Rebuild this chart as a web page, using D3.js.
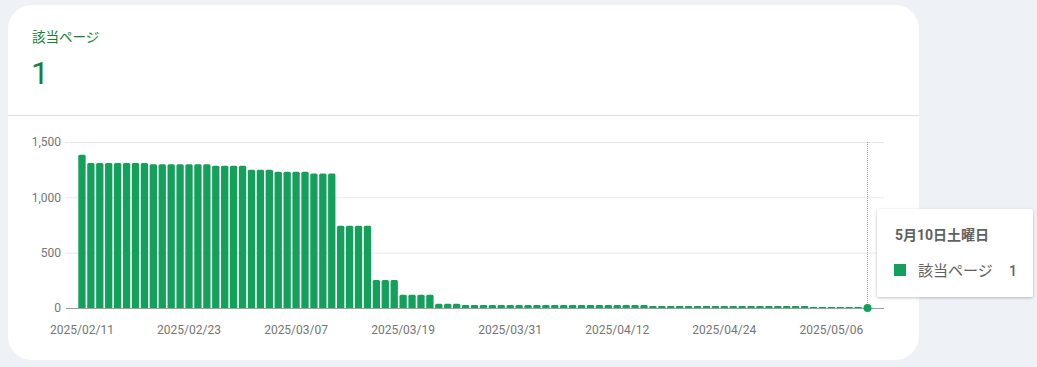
<html>
<head>
<meta charset="utf-8">
<script src="https://d3js.org/d3.v7.min.js"></script>
<style>
  body { margin: 0; background: #eef1f6; }
  text { font-family: Roboto, "Noto Sans CJK JP", sans-serif; }
</style>
</head>
<body>
<svg id="chart" width="1037" height="367"></svg>
<script>
    // daily counts, 2025/02/11 .. 2025/05/10
    const startDay = new Date(2025, 1, 11);
    const endDay = new Date(2025, 4, 11);
    const values = [
        1385,
        1310, 1310, 1310, 1310, 1310, 1310, 1310,
        1300, 1300, 1300, 1300, 1300, 1300, 1300,
        1286, 1286, 1286, 1286,
        1250, 1250, 1250,
        1232, 1232, 1232, 1232,
        1216, 1216, 1216,
        744, 744, 744, 744,
        253, 253, 253,
        120, 120, 120, 120,
        39, 39, 39,
        27, 27, 27, 27, 27, 27, 27, 27, 27, 27, 27, 27, 27, 27, 27, 27, 27, 27, 27, 27, 27,
        18, 18, 18, 18, 18, 18, 18, 18, 18, 18, 18, 18, 18, 18, 18, 18, 18, 18,
        8, 8, 8, 8, 8, 8,
        1
    ];
    const yTicks = [0, 500, 1000, 1500];
    const seriesName = "該当ページ";
    const headlineValue = "1";
    const tooltipTitle = "5月10日土曜日";

    const days = d3.timeDay.range(startDay, endDay);
    const fmt = d3.timeFormat("%Y/%m/%d");
    const green = "#12a05b";

    let svg = d3.select("svg#chart");

    // card
    svg.append("rect")
        .attr("x", 8).attr("y", 5)
        .attr("width", 911).attr("height", 355)
        .attr("rx", 24)
        .style("fill", "#fff");
    svg.append("line")
        .attr("x1", 8).attr("x2", 919)
        .attr("y1", 115.5).attr("y2", 115.5)
        .style("stroke", "#e0e0e0");

    svg.append("text")
        .attr("x", 32).attr("y", 42)
        .style("font-size", "13.5px")
        .style("fill", "#188038")
        .text(seriesName);
    svg.append("text")
        .attr("x", 31).attr("y", 84)
        .style("font-size", "32px")
        .style("fill", "#188038")
        .text(headlineValue);

    //scales
    let xScale = d3.scaleBand().domain(days).range([77.5, 871.5]).paddingInner(0.18).paddingOuter(0.09);
    let yScale = d3.scaleLinear().domain([0, 1500]).range([308, 142]);

    //horizontal grid lines
    yTicks.forEach(function(t) {
        if (t == 0) return;
        svg.append("line")
            .attr("x1", 65).attr("x2", 884)
            .attr("y1", yScale(t) + 0.5).attr("y2", yScale(t) + 0.5)
            .style("stroke", "#e8e8e8");
    });

    //y axis labels
    yTicks.forEach(function(t) {
        svg.append("text")
            .attr("x", 61).attr("y", yScale(t))
            .attr("dy", "0.35em")
            .attr("text-anchor", "end")
            .style("font-size", "12px")
            .style("fill", "#757575")
            .text(d3.format(",")(t));
    });

    //bars with rounded tops
    const bw = xScale.bandwidth();
    days.forEach(function(d, i) {
        let v = values[i];
        let x0 = xScale(d);
        let y0 = yScale(v);
        let h = yScale(0) - y0;
        let r = Math.min(1.5, h / 2);
        let p = d3.path();
        p.moveTo(x0, yScale(0));
        p.lineTo(x0, y0 + r);
        p.quadraticCurveTo(x0, y0, x0 + r, y0);
        p.lineTo(x0 + bw - r, y0);
        p.quadraticCurveTo(x0 + bw, y0, x0 + bw, y0 + r);
        p.lineTo(x0 + bw, yScale(0));
        p.closePath();
        svg.append("path").attr("d", p.toString()).style("fill", green);
    });

    //baseline
    svg.append("line")
        .attr("x1", 66).attr("x2", 884)
        .attr("y1", yScale(0) + 0.5).attr("y2", yScale(0) + 0.5)
        .style("stroke", "#9e9e9e");

    //x labels every 12 days
    days.forEach(function(d, i) {
        if (i % 12 != 0) return;
        svg.append("text")
            .attr("x", xScale(d) + bw / 2).attr("y", 334)
            .attr("text-anchor", "middle")
            .style("font-size", "12px")
            .style("fill", "#757575")
            .text(fmt(d));
    });

    //hover marker on the last day
    const last = days[days.length - 1];
    const hx = Math.round(xScale(last) + bw / 2) + 0.5;
    svg.append("line")
        .attr("x1", hx).attr("x2", hx)
        .attr("y1", 142).attr("y2", yScale(0))
        .style("stroke", "#9e9e9e")
        .style("stroke-dasharray", "1,1");
    svg.append("circle")
        .attr("cx", hx).attr("cy", yScale(values[values.length - 1]))
        .attr("r", 4)
        .style("fill", green);

    //tooltip
    let defs = svg.append("defs");
    let f = defs.append("filter").attr("id", "shadow").attr("x", "-10%").attr("y", "-10%").attr("width", "120%").attr("height", "130%");
    f.append("feDropShadow").attr("dx", 0).attr("dy", 1).attr("stdDeviation", 1.5).attr("flood-color", "#000").attr("flood-opacity", 0.25);
    svg.append("rect")
        .attr("x", 877).attr("y", 209)
        .attr("width", 156).attr("height", 88)
        .attr("rx", 2)
        .style("fill", "#fff")
        .attr("filter", "url(#shadow)");
    svg.append("text")
        .attr("x", 895).attr("y", 240)
        .style("font-size", "14px")
        .style("font-weight", "bold")
        .style("fill", "#616161")
        .text(tooltipTitle);
    svg.append("rect")
        .attr("x", 894).attr("y", 264)
        .attr("width", 12).attr("height", 12)
        .style("fill", green);
    svg.append("text")
        .attr("x", 918).attr("y", 276)
        .style("font-size", "15px")
        .style("fill", "#616161")
        .text(seriesName);
    svg.append("text")
        .attr("x", 1017).attr("y", 276)
        .attr("text-anchor", "end")
        .style("font-size", "14px")
        .style("font-weight", "500")
        .style("fill", "#616161")
        .text(values[values.length - 1]);
</script>
</body>
</html>
